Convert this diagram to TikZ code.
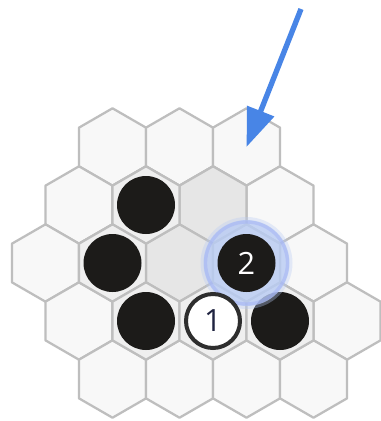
\documentclass[tikz,border=0pt]{standalone}
\usepackage{fontspec}
\setsansfont{Open Sans}
\usepackage{tikz}
\usetikzlibrary{arrows.meta}

\definecolor{cellfill}{HTML}{F8F8F8}
\definecolor{cellstone}{HTML}{EFEFEF}
\definecolor{cellgrey}{HTML}{E6E6E6}
\definecolor{cellline}{HTML}{BEBEBE}
\definecolor{stoneblack}{HTML}{1C1B19}
\definecolor{stonering}{HTML}{2E2E2E}
\definecolor{numink}{HTML}{1F2340}
\definecolor{glowblue}{HTML}{B9CCF4}
\definecolor{hintblue}{HTML}{4885E6}

\tikzset{
  hex/.pic={\path[pic actions] (90:38.7) -- (150:38.7) -- (210:38.7)
    -- (270:38.7) -- (330:38.7) -- (30:38.7) -- cycle;},
}

\begin{document}
\begin{tikzpicture}[x=0.75pt, y=-0.75pt,
    cell/.style={draw=cellline, fill=cellfill, line width=1.7pt, line join=round},
    blackstone/.style={circle, fill=stoneblack, minimum size=43.5pt, inner sep=0pt,
      text=white, font=\sffamily\fontsize{23}{23}\selectfont},
    whitestone/.style={circle, draw=stonering, line width=3pt, fill=white,
      minimum size=40.5pt, inner sep=0pt, text=numink,
      font=\sffamily\fontsize{23}{23}\selectfont},
    hint/.style={draw=hintblue, line width=4pt, -{Triangle[length=29pt, width=21pt]}}]
  \fill[white] (0,0) rectangle (380,421);
  \useasboundingbox (0,0) rectangle (380,421);
  % board: row r, half steps k, x = 45.5 + 33.5 k
  \foreach \r/\ks in {0/{2,4,6}, 1/{1,3,5,7}, 2/{0,2,4,6,8}, 3/{1,3,5,7,9}, 4/{2,4,6,8}} {
    \foreach \k in \ks {
      \coordinate (h-\r-\k) at ({45.5+33.5*\k}, {147+58*\r});
      \pic[cell] at (h-\r-\k) {hex};
    }
  }
  % shaded cells
  \foreach \c in {1-5, 2-4}
    \pic[cell, fill=cellgrey] at (h-\c) {hex};
  \foreach \c in {1-3, 2-2, 3-3, 3-5, 3-7, 2-6}
    \pic[cell, fill=cellstone] at (h-\c) {hex};
  % stones
  \node[blackstone] (b1) at (h-1-3) {};
  \node[blackstone] (b2) at (h-2-2) {};
  \node[blackstone] (b3) at (h-3-3) {};
  \node[blackstone] (b4) at (h-3-7) {};
  % last move glow
  \fill[glowblue, opacity=0.35] (h-2-6) circle (46);
  \fill[glowblue, opacity=0.7] (h-2-6) circle (43);
  \draw[glowblue!80!blue, opacity=0.35, line width=2.5pt] (h-2-6) circle (41);
  \node[blackstone] (m2) at (h-2-6) {2};
  \node[whitestone] (m1) at (h-3-5) {1};
  % hint arrow
  \coordinate (tail) at (301,9);
  \draw[hint] (tail) -- (h-0-6);
\end{tikzpicture}
\end{document}
